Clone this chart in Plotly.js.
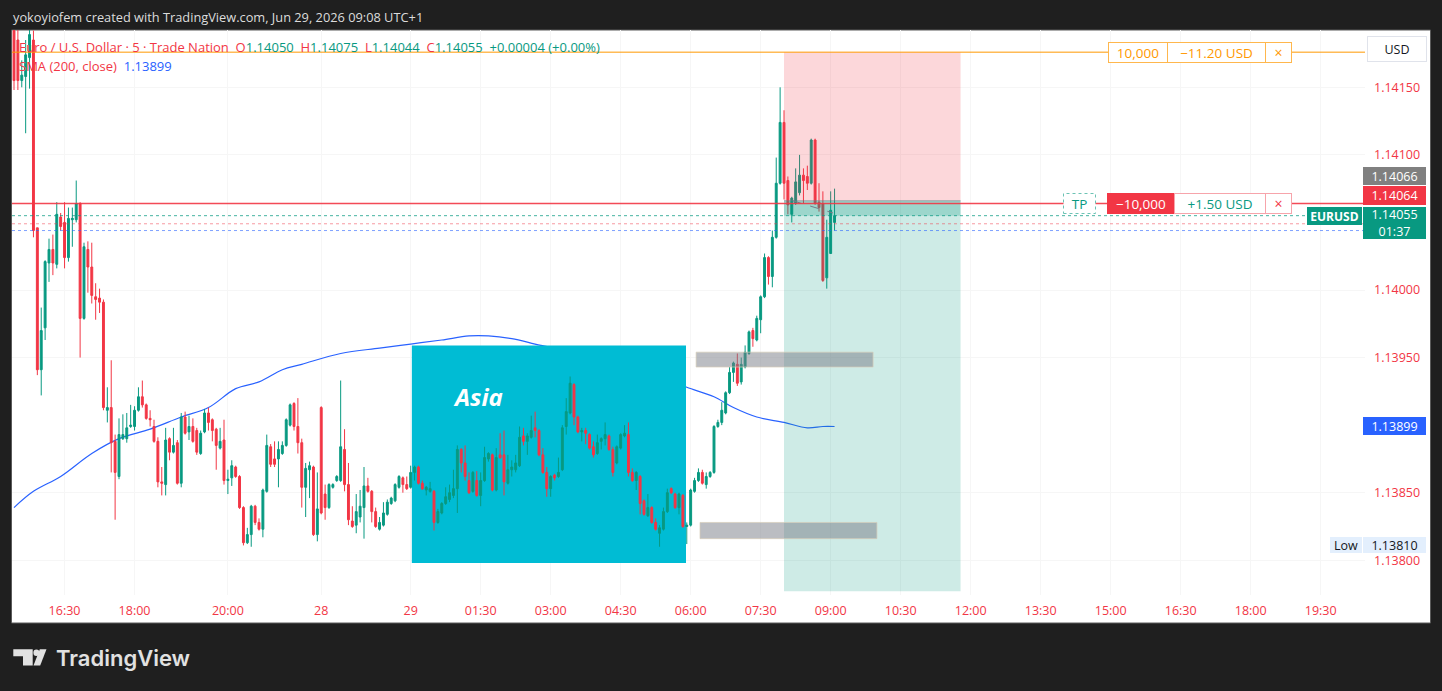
<!DOCTYPE html>
<html><head><meta charset="utf-8">
<script src="https://cdn.plot.ly/plotly-3.0.1.min.js"></script>
<style>html,body{margin:0;padding:0;background:#1f1f1f;overflow:hidden}#chart{width:1442px;height:691px}</style>
</head><body><div id="chart"></div>
<script>
// ---------- DATA (EURUSD, 5 min bars) ----------
const opens = [1.14192,1.14185,1.14155,1.14158,1.14172,1.14185,1.14046,1.13941,1.13972,1.14020,1.14030,1.14019,1.14054,1.14050,1.14024,1.14052,1.14052,1.14064,1.13979,1.14030,
1.14017,1.13995,1.13994,1.13991,1.13911,1.13913,1.13888,1.13862,1.13890,1.13890,1.13899,1.13899,1.13911,1.13921,1.13915,1.13905,1.13899,1.13888,1.13858,1.13856,
1.13890,1.13880,1.13887,1.13857,1.13906,1.13895,1.13899,1.13896,1.13879,1.13895,1.13909,1.13904,1.13897,1.13883,1.13889,1.13859,1.13861,1.13869,1.13862,1.13839,
1.13813,1.13819,1.13840,1.13828,1.13823,1.13851,1.13884,1.13875,1.13875,1.13879,1.13885,1.13900,1.13916,1.13899,1.13887,1.13854,1.13867,1.13869,1.13819,1.13913,
1.13849,1.13839,1.13854,1.13859,1.13859,1.13882,1.13856,1.13829,1.13826,1.13832,1.13839,1.13855,1.13851,1.13836,1.13823,1.13826,1.13834,1.13842,1.13844,1.13854,
1.13861,1.13856,1.13854,1.13865,1.13869,1.13857,1.13852,1.13851,1.13851,1.13828,1.13835,1.13842,1.13845,1.13848,1.13853,1.13882,1.13872,1.13859,1.13851,1.13859,
1.13848,1.13859,1.13875,1.13878,1.13852,1.13878,1.13878,1.13857,1.13867,1.13867,1.13870,1.13892,1.13888,1.13891,1.13898,1.13896,1.13878,1.13865,1.13853,1.13863,
1.13862,1.13867,1.13899,1.13909,1.13930,1.13906,1.13895,1.13896,1.13893,1.13884,1.13879,1.13888,1.13890,1.13892,1.13882,1.13872,1.13883,1.13892,1.13893,1.13865,
1.13859,1.13862,1.13844,1.13833,1.13839,1.13828,1.13820,1.13823,1.13836,1.13853,1.13849,1.13839,1.13848,1.13825,1.13826,1.13851,1.13859,1.13865,1.13856,1.13862,
1.13865,1.13899,1.13902,1.13909,1.13924,1.13939,1.13945,1.13932,1.13943,1.13953,1.13970,1.13963,1.13978,1.13995,1.14024,1.14010,1.14039,1.14079,1.14124,1.14081,
1.14056,1.14064,1.14072,1.14085,1.14084,1.14079,1.14111,1.14065,1.14064,1.14009,1.14027,1.14050];
const highs = [1.14205,1.14200,1.14170,1.14185,1.14194,1.14192,1.14046,1.13987,1.14022,1.14038,1.14041,1.14065,1.14057,1.14065,1.14061,1.14061,1.14081,1.14065,1.14035,1.14036,
1.14035,1.14005,1.14001,1.13993,1.13928,1.13948,1.13893,1.13905,1.13908,1.13909,1.13915,1.13914,1.13928,1.13933,1.13916,1.13911,1.13904,1.13891,1.13869,1.13898,
1.13891,1.13898,1.13889,1.13909,1.13910,1.13907,1.13905,1.13898,1.13896,1.13912,1.13913,1.13905,1.13898,1.13898,1.13904,1.13867,1.13874,1.13870,1.13863,1.13840,
1.13824,1.13841,1.13841,1.13831,1.13853,1.13893,1.13886,1.13888,1.13888,1.13888,1.13905,1.13916,1.13917,1.13920,1.13890,1.13872,1.13873,1.13870,1.13865,1.13914,
1.13856,1.13857,1.13857,1.13863,1.13933,1.13897,1.13872,1.13840,1.13849,1.13852,1.13869,1.13861,1.13852,1.13839,1.13832,1.13843,1.13845,1.13847,1.13857,1.13863,
1.13862,1.13862,1.13870,1.13870,1.13870,1.13859,1.13855,1.13858,1.13852,1.13838,1.13843,1.13854,1.13856,1.13867,1.13885,1.13883,1.13885,1.13865,1.13866,1.13866,
1.13865,1.13884,1.13880,1.13879,1.13883,1.13894,1.13896,1.13878,1.13874,1.13878,1.13899,1.13898,1.13894,1.13907,1.13910,1.13897,1.13883,1.13869,1.13863,1.13864,
1.13876,1.13900,1.13920,1.13936,1.13931,1.13907,1.13898,1.13898,1.13894,1.13888,1.13893,1.13891,1.13902,1.13893,1.13884,1.13885,1.13894,1.13900,1.13902,1.13868,
1.13866,1.13863,1.13845,1.13849,1.13840,1.13831,1.13826,1.13839,1.13853,1.13854,1.13850,1.13850,1.13849,1.13828,1.13853,1.13861,1.13868,1.13867,1.13865,1.13866,
1.13900,1.13904,1.13917,1.13925,1.13943,1.13947,1.13953,1.13950,1.13959,1.13970,1.13972,1.13981,1.13996,1.14027,1.14025,1.14044,1.14098,1.14150,1.14133,1.14084,
1.14069,1.14090,1.14100,1.14090,1.14092,1.14112,1.14112,1.14079,1.14073,1.14052,1.14073,1.14075];
const lows = [1.14148,1.14148,1.14150,1.14116,1.14149,1.14039,1.13937,1.13922,1.13963,1.14006,1.14011,1.14016,1.14044,1.14016,1.14021,1.14032,1.14050,1.13950,1.13978,1.13998,
1.13990,1.13978,1.13983,1.13911,1.13902,1.13865,1.13830,1.13860,1.13889,1.13887,1.13898,1.13896,1.13910,1.13913,1.13904,1.13899,1.13887,1.13854,1.13848,1.13848,
1.13874,1.13879,1.13856,1.13854,1.13893,1.13889,1.13887,1.13878,1.13878,1.13894,1.13896,1.13888,1.13867,1.13882,1.13856,1.13849,1.13855,1.13861,1.13838,1.13811,
1.13812,1.13810,1.13826,1.13822,1.13817,1.13850,1.13869,1.13869,1.13854,1.13878,1.13884,1.13899,1.13896,1.13879,1.13839,1.13832,1.13846,1.13818,1.13814,1.13834,
1.13830,1.13838,1.13853,1.13858,1.13858,1.13851,1.13826,1.13824,1.13820,1.13828,1.13816,1.13850,1.13828,1.13824,1.13822,1.13825,1.13833,1.13841,1.13843,1.13853,
1.13850,1.13852,1.13853,1.13859,1.13856,1.13852,1.13848,1.13850,1.13822,1.13827,1.13834,1.13841,1.13843,1.13846,1.13835,1.13865,1.13859,1.13849,1.13850,1.13847,
1.13840,1.13858,1.13873,1.13851,1.13851,1.13875,1.13848,1.13856,1.13862,1.13865,1.13869,1.13885,1.13878,1.13890,1.13891,1.13877,1.13864,1.13847,1.13847,1.13859,
1.13861,1.13866,1.13893,1.13908,1.13900,1.13894,1.13888,1.13886,1.13882,1.13876,1.13878,1.13882,1.13885,1.13881,1.13862,1.13871,1.13882,1.13891,1.13862,1.13858,
1.13852,1.13834,1.13833,1.13832,1.13827,1.13822,1.13810,1.13822,1.13835,1.13849,1.13838,1.13834,1.13824,1.13812,1.13825,1.13850,1.13858,1.13856,1.13853,1.13861,
1.13864,1.13898,1.13900,1.13908,1.13923,1.13932,1.13929,1.13930,1.13942,1.13952,1.13958,1.13962,1.13968,1.13994,1.14004,1.14002,1.14038,1.14078,1.14067,1.14056,
1.14050,1.14063,1.14070,1.14064,1.14074,1.14078,1.14063,1.14058,1.14006,1.14001,1.14027,1.14044];
const closes = [1.14155,1.14155,1.14159,1.14174,1.14189,1.14044,1.13941,1.13970,1.14021,1.14030,1.14020,1.14056,1.14047,1.14024,1.14053,1.14053,1.14064,1.13979,1.14032,1.14017,
1.13996,1.13993,1.13991,1.13913,1.13913,1.13887,1.13865,1.13893,1.13893,1.13898,1.13900,1.13911,1.13921,1.13915,1.13905,1.13904,1.13888,1.13858,1.13857,1.13889,
1.13880,1.13885,1.13857,1.13906,1.13894,1.13899,1.13888,1.13880,1.13894,1.13909,1.13902,1.13896,1.13885,1.13888,1.13859,1.13860,1.13870,1.13862,1.13839,1.13813,
1.13819,1.13840,1.13828,1.13823,1.13852,1.13885,1.13871,1.13871,1.13882,1.13885,1.13904,1.13915,1.13899,1.13887,1.13854,1.13868,1.13870,1.13819,1.13838,1.13835,
1.13839,1.13856,1.13856,1.13862,1.13884,1.13856,1.13830,1.13825,1.13836,1.13840,1.13855,1.13851,1.13836,1.13825,1.13828,1.13835,1.13843,1.13846,1.13856,1.13862,
1.13856,1.13853,1.13865,1.13869,1.13857,1.13853,1.13854,1.13853,1.13828,1.13836,1.13842,1.13847,1.13850,1.13853,1.13882,1.13872,1.13862,1.13850,1.13865,1.13848,
1.13859,1.13876,1.13879,1.13852,1.13876,1.13876,1.13858,1.13867,1.13869,1.13872,1.13891,1.13888,1.13892,1.13896,1.13896,1.13878,1.13865,1.13853,1.13862,1.13861,
1.13865,1.13898,1.13910,1.13931,1.13906,1.13895,1.13896,1.13894,1.13883,1.13878,1.13887,1.13890,1.13893,1.13882,1.13865,1.13884,1.13893,1.13894,1.13865,1.13859,
1.13865,1.13842,1.13834,1.13839,1.13828,1.13823,1.13824,1.13836,1.13850,1.13850,1.13839,1.13849,1.13825,1.13826,1.13852,1.13859,1.13865,1.13857,1.13862,1.13865,
1.13899,1.13902,1.13911,1.13924,1.13939,1.13946,1.13931,1.13945,1.13954,1.13969,1.13964,1.13979,1.13995,1.14024,1.14010,1.14039,1.14079,1.14124,1.14079,1.14063,
1.14068,1.14080,1.14085,1.14081,1.14079,1.14111,1.14064,1.14061,1.14007,1.14039,1.14059,1.14055];

// SMA(200, close) (bar index -> value)
const smaIndex = [0,5,12,20,27,35,43,50,57,63,69,74,84,94,102,110,117,122,128,134,140,151,161,169,173,180,185,191,198,204,208,211];
const smaValue = [1.13839,1.13851,1.13862,1.13879,1.13890,1.13897,1.13906,1.13913,1.13927,1.13932,1.13941,1.13945,1.13953,1.13957,1.13960,1.13963,1.13966,1.13966,1.13964,1.13960,1.13956,1.13948,1.13939,1.13933,1.13928,1.13921,1.13913,1.13906,1.13902,1.13898,1.13899,1.13899];

// time axis (bar index of each label)
const timeTickIndex = [13,31,55,79,102,120,138,156,174,192,210,228,246,264,282,300,318,336];
const timeTickLabels = ['16:30','18:00','20:00','28','29','01:30','03:00','04:30','06:00','07:30','09:00','10:30','12:00','13:30','15:00','16:30','18:00','19:30'];
const priceTicks = [1.13800,1.13850,1.13950,1.14000,1.14100,1.14150];

// levels
const stopLevel = 1.14176, entryLevel = 1.14066, tpLevel = 1.14064, targetLevel = 1.13777;
const lastPrice = 1.14055, askLevel = 1.14049, bidLevel = 1.14044, smaLast = 1.13899, dayLow = 1.13810;
// drawings (bar index / price)
const asiaBox = {i0:102.3, i1:172.8, p0:1.13798, p1:1.13959};
const grayBox1 = {i0:175.4, i1:220.9, p0:1.13943, p1:1.13954};
const grayBox2 = {i0:176.4, i1:221.9, p0:1.13816, p1:1.13828};
const posBox = {i0:198.0, i1:243.4};

// ---------- LAYOUT HELPERS ----------
const Lp=12, Rp=1365, Tp=30, Bp=595;
const px = X => (X-Lp)/(Rp-Lp);
const py = Y => (Bp-Y)/(Bp-Tp);
const barIndex = opens.map((_, i) => i);
const xRange = [-0.514, 347.4];
const yRange = [1.137743, 1.141924];
const FONT = 'Open Sans, Noto Sans, sans-serif';
const GREEN='#089981', RED='#F23645', BLUE='#2962FF', ORANGE='#FF9800';

const traces = [
  {type:'scatter', mode:'lines', x:smaIndex, y:smaValue, xaxis:'x', yaxis:'y',
   line:{color:BLUE, width:1.2, shape:'spline'}, hoverinfo:'skip'},
  {type:'candlestick', x:barIndex, open:opens, high:highs, low:lows, close:closes, xaxis:'x2', yaxis:'y2',
   increasing:{line:{color:GREEN, width:1}, fillcolor:GREEN},
   decreasing:{line:{color:RED, width:1}, fillcolor:RED},
   whiskerwidth:0, hoverinfo:'skip'}
];

const hline = (y, color, width, dash, x1) => ({type:'line', xref:'paper', yref:'y', x0:0, x1:(x1===undefined?1:x1), y0:y, y1:y,
  line:{color:color, width:width, dash:dash||'solid'}, layer:'above'});

const shapes = [
  // white chart canvas + frame
  {type:'rect', xref:'paper', yref:'paper', x0:px(11.5), x1:px(1430.5), y0:py(623), y1:py(30), fillcolor:'#ffffff', line:{color:'#5a5a5a', width:1}, layer:'below'},
  // Asia session box (above SMA, below candles)
  {type:'rect', xref:'x2', yref:'y2', x0:asiaBox.i0, x1:asiaBox.i1, y0:asiaBox.p0, y1:asiaBox.p1, fillcolor:'#00BCD4', line:{width:0}, layer:'below'},
  // position tool
  {type:'rect', xref:'x', yref:'y', x0:posBox.i0, x1:posBox.i1, y0:entryLevel, y1:stopLevel, fillcolor:'rgba(242,54,69,0.2)', line:{width:0}, layer:'above'},
  {type:'rect', xref:'x', yref:'y', x0:posBox.i0, x1:posBox.i1, y0:targetLevel, y1:entryLevel, fillcolor:'rgba(8,153,129,0.2)', line:{width:0}, layer:'above'},
  {type:'rect', xref:'x', yref:'y', x0:posBox.i0, x1:posBox.i1, y0:lastPrice, y1:entryLevel, fillcolor:'rgba(8,153,129,0.25)', line:{width:0}, layer:'above'},
  {type:'line', xref:'x', yref:'y', x0:posBox.i0, x1:posBox.i1, y0:entryLevel, y1:entryLevel, line:{color:'rgba(120,123,134,0.6)', width:1}, layer:'above'},
  {type:'line', xref:'x', yref:'y', x0:200.3, x1:210.6, y0:entryLevel, y1:1.14057, line:{color:'#787B86', width:1, dash:'dash'}, layer:'above'},
  // gray zones
  {type:'rect', xref:'x', yref:'y', x0:grayBox1.i0, x1:grayBox1.i1, y0:grayBox1.p0, y1:grayBox1.p1, fillcolor:'rgba(120,123,134,0.5)', line:{color:'rgba(215,205,185,0.7)', width:1}, layer:'above'},
  {type:'rect', xref:'x', yref:'y', x0:grayBox2.i0, x1:grayBox2.i1, y0:grayBox2.p0, y1:grayBox2.p1, fillcolor:'rgba(120,123,134,0.5)', line:{color:'rgba(215,205,185,0.7)', width:1}, layer:'above'},
  // price lines
  hline(stopLevel, ORANGE, 1),
  hline(tpLevel, 'rgba(242,54,69,0.9)', 1.3),
  hline(lastPrice, 'rgba(8,153,129,0.75)', 1, 'dot', px(1307)),
  hline(askLevel, 'rgba(242,54,69,0.5)', 1, 'dot'),
  hline(bidLevel, 'rgba(41,98,255,0.6)', 1, 'dot'),
  // TP badge dotted frame
  {type:'rect', xref:'paper', yref:'paper', x0:px(1063.5), x1:px(1095.5), y0:py(213.5), y1:py(193.5), fillcolor:'#ffffff', line:{color:'#6cc3b4', width:1, dash:'dot'}, layer:'above'},
  // TradingView logo
  {type:'path', xref:'paper', yref:'paper', layer:'above', fillcolor:'#e1e1e1', line:{width:0},
   path:`M ${px(13.3)},${py(649.3)} L ${px(32.7)},${py(649.3)} L ${px(32.7)},${py(665.5)} L ${px(23)},${py(665.5)} L ${px(23)},${py(656.3)} L ${px(13.3)},${py(656.3)} Z`},
  {type:'circle', xref:'paper', yref:'paper', layer:'above', fillcolor:'#e1e1e1', line:{width:0},
   x0:px(33.4), x1:px(39.4), y0:py(656), y1:py(649.5)},
  {type:'path', xref:'paper', yref:'paper', layer:'above', fillcolor:'#e1e1e1', line:{width:0},
   path:`M ${px(39.8)},${py(649.3)} L ${px(46.5)},${py(649.3)} L ${px(40.2)},${py(665.5)} L ${px(33.5)},${py(665.5)} Z`}
];

const box = (text, X, Yval, w, h, bg, fg, opts) => Object.assign({
  text:text, xref:'paper', yref:'y', x:px(X), y:Yval, xanchor:'left', yanchor:'middle',
  showarrow:false, width:w, height:h, bgcolor:bg, borderpad:0, borderwidth:0, align:'center',
  font:{family:FONT, size:12.5, color:fg}}, opts||{});

const annotations = [
  {text:'yokoyiofem created with TradingView.com, Jun 29, 2026 09:08 UTC+1', xref:'paper', yref:'paper', x:px(11), y:py(17),
   xanchor:'left', yanchor:'middle', showarrow:false, font:{family:FONT, size:12.8, color:'#dcdcdc'}},
  {text:'<span style="color:#F23645">Euro / U.S. Dollar · 5 · Trade Nation</span>\u00a0\u00a0<span style="color:#F23645">O</span><span style="color:#089981">1.14050</span>\u00a0\u00a0<span style="color:#F23645">H</span><span style="color:#089981">1.14075</span>\u00a0\u00a0<span style="color:#F23645">L</span><span style="color:#089981">1.14044</span>\u00a0\u00a0<span style="color:#F23645">C</span><span style="color:#089981">1.14055</span>\u00a0\u00a0<span style="color:#089981">+0.00004 (+0.00%)</span>',
   xref:'paper', yref:'paper', x:px(17), y:py(47), xanchor:'left', yanchor:'middle', showarrow:false, font:{family:FONT, size:13}},
  {text:'<span style="color:#F23645">SMA (200, close)</span>\u00a0\u00a0<span style="color:#2962FF">1.13899</span>',
   xref:'paper', yref:'paper', x:px(17), y:py(66), xanchor:'left', yanchor:'middle', showarrow:false, font:{family:FONT, size:13}},
  {text:'<b><i>Asia</i></b>', xref:'x2', yref:'y2', x:119.3, y:1.13921, showarrow:false, font:{family:FONT, size:24, color:'#ffffff'}},
  // stop order line labels
  box('10,000', 1108, stopLevel, 58, 19, '#ffffff', ORANGE, {borderwidth:1, bordercolor:'#FFB74D', font:{family:FONT,size:13.5,color:ORANGE}}),
  box('\u221211.20 USD', 1167, stopLevel, 97, 19, '#ffffff', ORANGE, {borderwidth:1, bordercolor:'#FFB74D', font:{family:FONT,size:13.5,color:ORANGE}}),
  box('\u00d7', 1265, stopLevel, 25, 19, '#ffffff', ORANGE, {borderwidth:1, bordercolor:'#FFB74D', font:{family:FONT,size:14,color:ORANGE}}),
  // TP order line labels
  box('TP', 1065, tpLevel, 29, 17, '#ffffff', GREEN, {font:{family:FONT,size:13.5,color:GREEN}}),
  box('\u221210,000', 1107, tpLevel, 66, 19, RED, '#ffffff', {borderwidth:1, bordercolor:RED, font:{family:FONT,size:13.5,color:'#ffffff'}}),
  box('+1.50 USD', 1174, tpLevel, 90, 19, '#ffffff', GREEN, {borderwidth:1, bordercolor:'#F7A4AB', font:{family:FONT,size:13.5,color:GREEN}}),
  box('\u00d7', 1265, tpLevel, 25, 19, '#ffffff', RED, {borderwidth:1, bordercolor:'#F7A4AB', font:{family:FONT,size:14,color:RED}}),
  // currency button
  {text:'USD', xref:'paper', yref:'paper', x:px(1367), y:py(49), xanchor:'left', yanchor:'middle', showarrow:false,
   width:58, height:24, bgcolor:'#ffffff', bordercolor:'#e0e3eb', borderwidth:1, borderpad:0, font:{family:FONT, size:12.5, color:'#131722'}},
  // price scale labels
  box(entryLevel.toFixed(5), 1363, entryLevel, 63, 18, '#808080', '#ffffff', {yshift:24.8}),
  box(tpLevel.toFixed(5), 1363, tpLevel, 63, 19, RED, '#ffffff', {yshift:8.5}),
  box(lastPrice.toFixed(5)+'<br>01:37', 1363, lastPrice, 63, 32, GREEN, '#ffffff', {yanchor:'top', yshift:8.7}),
  box('<b>EURUSD</b>', 1307, lastPrice, 55, 18, GREEN, '#ffffff', {yanchor:'top', yshift:8.7, font:{family:FONT, size:12, color:'#ffffff'}}),
  box(smaLast.toFixed(5), 1363, smaLast, 63, 18, BLUE, '#ffffff'),
  box('Low', 1330, dayLow, 32, 16, '#e3effd', '#131722', {yshift:1.5}),
  box(dayLow.toFixed(5), 1363, dayLow, 63, 16, '#e3effd', '#131722', {yshift:1.5}),
  // footer
  {text:'TradingView', xref:'paper', yref:'paper', x:px(54), y:py(658), xanchor:'left', yanchor:'middle', showarrow:false,
   font:{family:'Inter, Open Sans, sans-serif', size:22, weight:600, color:'#e1e1e1'}}
];

const layout = {
  width:1442, height:691,
  margin:{l:Lp, r:1442-Rp, t:Tp, b:691-Bp, pad:0},
  paper_bgcolor:'#1f1f1f', plot_bgcolor:'rgba(0,0,0,0)',
  showlegend:false, hovermode:false, dragmode:false,
  boxgap:0.3,
  font:{family:FONT, size:12, color:'#131722'},
  xaxis:{range:xRange, tickmode:'array', tickvals:timeTickIndex, ticktext:timeTickLabels, ticks:'',
    tickfont:{family:FONT, size:12.5, color:RED}, showgrid:true, gridcolor:'#f6f6f6', zeroline:false, showline:false,
    ticklabelstandoff:6, fixedrange:true, rangeslider:{visible:false}, anchor:'y'},
  yaxis:{range:yRange, side:'right', tickmode:'array', tickvals:priceTicks, ticktext:priceTicks.map(v=>v.toFixed(5)), ticks:'',
    tickfont:{family:FONT, size:12.5, color:RED}, showgrid:true, gridcolor:'#f6f6f6', zeroline:false, showline:false,
    ticklabelstandoff:8, fixedrange:true, anchor:'x'},
  xaxis2:{range:xRange, visible:false, anchor:'y2', fixedrange:true, rangeslider:{visible:false}},
  yaxis2:{range:yRange, visible:false, anchor:'x2', fixedrange:true},
  shapes:shapes, annotations:annotations
};

Plotly.newPlot('chart', traces, layout, {staticPlot:true, displayModeBar:false});
</script></body></html>
